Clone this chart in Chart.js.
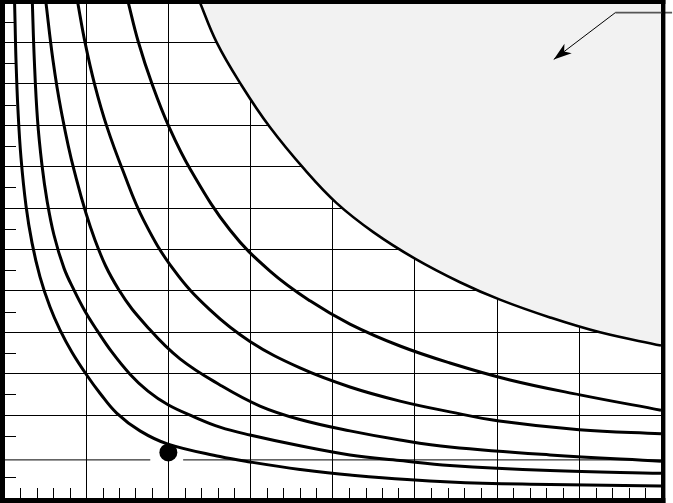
<!DOCTYPE html>
<html>
<head>
<meta charset="utf-8">
<script src="https://cdn.jsdelivr.net/npm/chart.js@4/dist/chart.umd.min.js"></script>
<style>
    body { margin: 0; background: #fff; }
    .chart-box { width: 673px; height: 503px; }
</style>
</head>
<body>
<div class="chart-box"><canvas id="curveChart"></canvas></div>
<script>
// Axis ranges (grid units, no labels shown)
const xMajorTicks = [0, 1, 2, 3, 4, 5, 6, 7, 8];
const yMajorTicks = [0, 1, 2, 3, 4, 5, 6, 7, 8, 9, 10, 11, 12];

// Curves, innermost first: [x, y] pairs
const curve1 = [[0.128, 12.02], [0.134, 11.54], [0.146, 10.57], [0.17, 9.37], [0.207, 8.21], [0.268, 7.05], [0.341, 6.16],
    [0.438, 5.34], [0.56, 4.61], [0.681, 4.06], [0.827, 3.52], [1.006, 2.97], [1.168, 2.53], [1.371, 2.05], [1.655, 1.62],
    [1.996, 1.3], [2.628, 1.0], [2.993, 0.87], [3.602, 0.69], [4.21, 0.555], [5.427, 0.386], [6.644, 0.326], [7.995, 0.29]];
const curve2 = [[0.344, 12.02], [0.369, 10.57], [0.408, 9.13], [0.462, 8.04], [0.523, 7.19], [0.608, 6.35], [0.73, 5.55],
    [0.852, 5.02], [0.986, 4.51], [1.128, 4.06], [1.314, 3.52], [1.533, 2.99], [1.752, 2.58], [1.996, 2.25], [2.312, 1.96],
    [2.628, 1.71], [2.993, 1.52], [3.602, 1.26], [4.21, 1.04], [4.819, 0.905], [5.427, 0.785], [6.644, 0.664], [7.995, 0.596]];
const curve3 = [[0.507, 12.02], [0.596, 10.57], [0.694, 9.37], [0.852, 7.92], [1.107, 6.23], [1.399, 5.02], [1.777, 4.06],
    [2.142, 3.36], [2.628, 2.73], [3.115, 2.22], [3.602, 1.895], [4.21, 1.62], [4.819, 1.4], [5.427, 1.23], [6.644, 1.04], [7.995, 0.89]];
const curve4 = [[0.892, 12.02], [0.986, 11.0], [1.105, 9.97], [1.253, 8.96], [1.444, 7.92], [1.699, 6.71], [2.069, 5.5],
    [2.507, 4.54], [2.993, 3.78], [3.602, 3.14], [4.21, 2.68], [4.819, 2.34], [5.427, 2.08], [6.027, 1.86], [7.0, 1.65], [7.995, 1.55]];
const curve5 = [[1.505, 12.02], [1.635, 11.01], [1.806, 9.97], [2.008, 8.96], [2.272, 7.92], [2.75, 6.47], [3.237, 5.48],
    [3.724, 4.76], [4.21, 4.2], [4.819, 3.67], [5.427, 3.26], [6.157, 2.85], [7.009, 2.49], [7.995, 2.12]];
const boundary = [[2.373, 12.02], [2.588, 11.0], [2.892, 9.96], [3.237, 8.95], [3.663, 7.92], [4.048, 7.12], [4.494, 6.42],
    [5.001, 5.78], [5.549, 5.21], [6.035, 4.79], [6.644, 4.36], [7.253, 4.0], [7.995, 3.68]];

// Marked point and the broken level line through it
const markPoint = [[2.0, 1.1]];
const levelLine = [[0, 0.92], [1.78, 0.92], [1.98, null], [2.18, 0.92], [8.0, 0.92]];

// Arrow pointing into the shaded region
const arrowTail = [[8.13, 11.72], [7.44, 11.72]];
const arrowShaft = [[7.44, 11.72], [6.69, 10.59]];

const toXY = pts => pts.map(p => ({ x: p[0], y: p[1] }));

function curveSet(pts, width) {
    return {
        data: toXY(pts),
        borderColor: '#000',
        borderWidth: width,
        pointRadius: 0,
        tension: 0.4,
        fill: false
    };
}

// minor ticks on the bottom and left edges
const minorTicks = {
    id: 'minorTicks',
    afterDatasetsDraw(chart) {
        const { ctx, chartArea, scales } = chart;
        ctx.save();
        ctx.strokeStyle = '#000';
        ctx.lineWidth = 1;
        ctx.beginPath();
        for (let i = 1; i < 40; i++) {
            if (i % 5 === 0) continue;
            const px = Math.round(scales.x.getPixelForValue(i / 5)) + 0.5;
            ctx.moveTo(px, chartArea.bottom);
            ctx.lineTo(px, chartArea.bottom - 10);
        }
        for (let j = 0; j < 12; j++) {
            const py = Math.round(scales.y.getPixelForValue(j + 0.5)) + 0.5;
            ctx.moveTo(chartArea.left, py);
            ctx.lineTo(chartArea.left + 12, py);
        }
        ctx.stroke();
        ctx.restore();
    }
};

// arrowhead at the end of the shaft
const arrowHead = {
    id: 'arrowHead',
    afterDatasetsDraw(chart) {
        const idx = chart.data.datasets.findIndex(d => d.label === 'shaft');
        const meta = chart.getDatasetMeta(idx);
        const a = meta.data[0], b = meta.data[1];
        const ang = Math.atan2(b.y - a.y, b.x - a.x);
        const ctx = chart.ctx;
        ctx.save();
        ctx.translate(b.x, b.y);
        ctx.rotate(ang);
        ctx.fillStyle = '#000';
        ctx.beginPath();
        ctx.moveTo(0, 0);
        ctx.lineTo(-18, -6);
        ctx.lineTo(-13, 0);
        ctx.lineTo(-18, 6);
        ctx.closePath();
        ctx.fill();
        ctx.restore();
    }
};

// heavy frame drawn outside the plot area
const frame = {
    id: 'frame',
    afterDraw(chart) {
        const { ctx, chartArea: ca } = chart;
        ctx.save();
        ctx.fillStyle = '#000';
        ctx.fillRect(0, 0, ca.left, chart.height);
        ctx.fillRect(0, 0, ca.right + 4, 4);
        ctx.fillRect(ca.right, 0, 4, chart.height);
        ctx.fillRect(0, ca.bottom, ca.right + 4, chart.height - ca.bottom);
        ctx.restore();
    }
};

new Chart(document.getElementById('curveChart'), {
    type: 'line',
    data: {
        datasets: [
            {
                label: 'shaft',
                data: toXY(arrowShaft),
                borderColor: '#000',
                borderWidth: 1,
                pointRadius: 0,
                clip: false
            },
            {
                label: 'tail',
                data: toXY(arrowTail),
                borderColor: '#555',
                borderWidth: 1.6,
                pointRadius: 0,
                clip: false
            },
            {
                label: 'mark',
                data: toXY(markPoint),
                showLine: false,
                pointRadius: 9,
                pointBackgroundColor: '#000',
                pointBorderWidth: 0
            },
            {
                label: 'level',
                data: toXY(levelLine),
                borderColor: '#000',
                borderWidth: 1,
                pointRadius: 0,
                spanGaps: false
            },
            curveSet(curve1, 3),
            curveSet(curve2, 3),
            curveSet(curve3, 3),
            curveSet(curve4, 3),
            curveSet(curve5, 3),
            Object.assign(curveSet(boundary, 2.6), { fill: 'end', backgroundColor: '#f2f2f2' })
        ]
    },
    options: {
        responsive: true,
        maintainAspectRatio: false,
        animation: false,
        events: [],
        layout: { autoPadding: false, padding: { left: 4, right: 11.6, top: 1, bottom: 5 } },
        plugins: {
            legend: { display: false },
            tooltip: { enabled: false }
        },
        scales: {
            x: {
                type: 'linear',
                min: 0,
                max: 8,
                afterBuildTicks: axis => { axis.ticks = xMajorTicks.map(v => ({ value: v })); },
                ticks: { display: false },
                border: { display: false },
                grid: { color: '#000', lineWidth: 1, drawTicks: false }
            },
            y: {
                min: 0,
                max: 12,
                afterBuildTicks: axis => { axis.ticks = yMajorTicks.map(v => ({ value: v })); },
                ticks: { display: false },
                border: { display: false },
                grid: {
                    color: ctx => (ctx.tick && ctx.tick.value === 1) ? 'rgba(0,0,0,0)' : '#000',
                    lineWidth: 1,
                    drawTicks: false
                }
            }
        }
    },
    plugins: [minorTicks, arrowHead, frame]
});
</script>
</body>
</html>
